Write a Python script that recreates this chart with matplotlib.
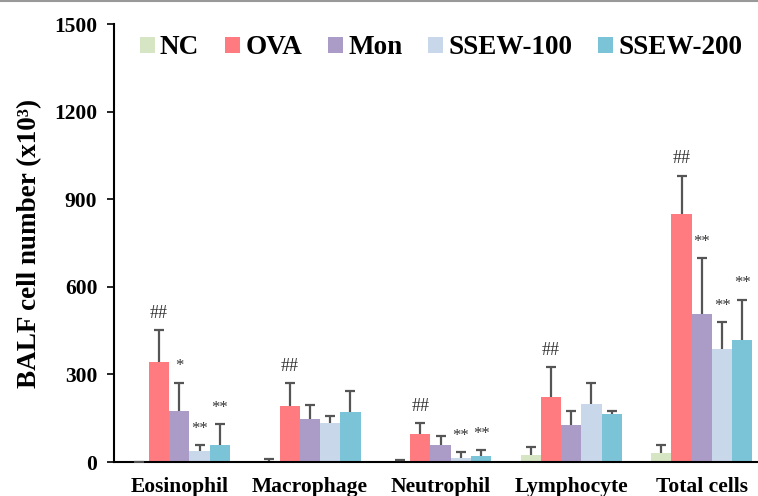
import matplotlib
matplotlib.use("Agg")
import matplotlib.pyplot as plt
import numpy as np
from matplotlib.patches import Patch
from matplotlib.lines import Line2D

plt.rcParams['font.family'] = ['Liberation Serif', 'DejaVu Serif']

categories = ["Eosinophil", "Macrophage", "Neutrophil", "Lymphocyte", "Total cells"]
series = ["NC", "OVA", "Mon", "SSEW-100", "SSEW-200"]
colors = ["#d6e6c4", "#ff7b7f", "#ab9bc7", "#c8d7ea", "#7bc3d6"]

# mean values (x10^3) per series, in category order
nc_vals = [0, 5, 4, 25, 31]
ova_vals = [343, 193, 96, 222, 848]
mon_vals = [175, 146, 59, 126, 506]
s100_vals = [37, 135, 15, 198, 387]
s200_vals = [57, 171, 22, 163, 418]

# upper error (SD)
nc_err = [0, 4, 2, 27, 27]
ova_err = [109, 77, 36, 102, 133]
mon_err = [97, 50, 30, 50, 192]
s100_err = [21, 24, 18, 72, 92]
s200_err = [73, 71, 18, 13, 137]

# significance marks: (category index, series index, text)
marks = [
    (0, 1, "##"), (0, 2, "*"), (0, 3, "**"), (0, 4, "**"),
    (1, 1, "##"),
    (2, 1, "##"), (2, 3, "**"), (2, 4, "**"),
    (3, 1, "##"),
    (4, 1, "##"), (4, 2, "**"), (4, 3, "**"), (4, 4, "**"),
]

yticks = [0, 300, 600, 900, 1200, 1500]

values = [nc_vals, ova_vals, mon_vals, s100_vals, s200_vals]
errors = [nc_err, ova_err, mon_err, s100_err, s200_err]

fig = plt.figure(figsize=(7.58, 4.96), dpi=100)
ax = fig.add_axes([114/758, 34/496, 644/758, 438/496])

x = np.arange(len(categories))
w = 0.155
for i, (vals, errs, c, name) in enumerate(zip(values, errors, colors, series)):
    pos = x + (i - 2) * w
    ax.bar(pos, vals, width=w, color=c, edgecolor='none', label=name, zorder=2)
    eb = ax.errorbar(pos, vals, yerr=[np.zeros(len(errs)), errs], fmt='none',
                     ecolor='#555555', elinewidth=1.6, capsize=3.5, capthick=1.6, zorder=3)
    caps = eb[1]
    if len(caps) == 2:
        caps[0].set_visible(False)

for ci, si, t in marks:
    px = x[ci] + (si - 2) * w
    top = values[si][ci] + errors[si][ci]
    fs = 13 if t.startswith('#') else 12
    ax.annotate(t, (px, top), xytext=(0, 9), textcoords='offset points',
                ha='center', va='baseline', fontsize=fs, color='#333333')

ax.set_xlim(-0.5, 4.43)
ax.set_ylim(0, 1500)
ax.set_yticks(yticks)
ax.set_yticklabels([str(v) for v in yticks], fontsize=15.5, fontweight='bold')
ax.set_xticks(x)
ax.set_xticklabels(categories, fontsize=15.5, fontweight='bold')
ax.tick_params(axis='x', length=0, pad=11)
ax.tick_params(axis='y', length=5, width=1.2, pad=7, direction='out')
for s in ['top', 'right']:
    ax.spines[s].set_visible(False)
for s in ['left', 'bottom']:
    ax.spines[s].set_linewidth(1.5)
    ax.spines[s].set_color('black')

ax.set_ylabel("BALF cell number (x10³)", fontsize=19.5, fontweight='bold')
ax.yaxis.set_label_coords(-0.112, 0.5)

handles = [Patch(facecolor=c, edgecolor='none') for c in colors]
leg = fig.legend(handles, series, loc='center', bbox_to_anchor=(441/758, 1 - 48/496),
                 bbox_transform=fig.transFigure, ncol=5, frameon=False,
                 prop={'size': 19.5, 'weight': 'bold'},
                 handlelength=0.55, handleheight=0.55, handletextpad=0.2,
                 columnspacing=0.95, borderpad=0, borderaxespad=0)

fig.add_artist(Line2D([0, 1], [0.998, 0.998], transform=fig.transFigure,
                      color='#999999', lw=1.5))

fig.savefig("out.png", dpi=100)
